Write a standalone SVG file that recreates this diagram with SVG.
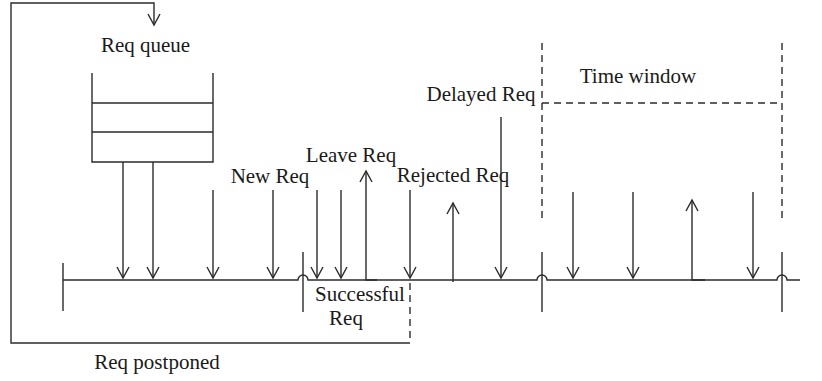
<svg xmlns="http://www.w3.org/2000/svg" width="822" height="381" viewBox="0 0 822 381">
  <style>
    .ln { stroke: #2b2b2b; stroke-width: 1.4; fill: none; }
    .dash { stroke: #2b2b2b; stroke-width: 1.4; fill: none; stroke-dasharray: 7 5; }
    text { font-family: "Liberation Serif", "Times New Roman", serif; font-size: 21px; fill: #1a1a1a; text-anchor: middle; }
  </style>
  <defs>
    <marker id="head" viewBox="0 0 14 14" refX="12" refY="7" markerWidth="14" markerHeight="14" markerUnits="userSpaceOnUse" orient="auto">
      <path d="M1 1 L12 7 L1 13" fill="none" stroke="#2b2b2b" stroke-width="1.4"/>
    </marker>
  </defs>
  <rect width="822" height="381" fill="#ffffff"/>

  <!-- request queue -->
  <g id="queue">
    <path class="ln" d="M92 73 V162 H213 V73 M92 103 H213 M92 132 H213"/>
    <text x="145.5" y="52">Req queue</text>
  </g>

  <!-- time window -->
  <g id="window">
    <path class="dash" d="M542 43 V222 M782 43 V222 M542 103 H782"/>
    <text x="638" y="83">Time window</text>
  </g>

  <!-- labels -->
  <g id="labels">
    <text x="270" y="183">New Req</text>
    <text x="351" y="162">Leave Req</text>
    <text x="453" y="182">Rejected Req</text>
    <text x="481" y="101">Delayed Req</text>
    <text x="360" y="301">Successful</text>
    <text x="346" y="325">Req</text>
    <text x="157" y="369">Req postponed</text>
  </g>

  <!-- timeline with hops over the window boundaries -->
  <g id="timeline">
    <path class="ln" d="M63 280 H298 A5 5 0 0 1 308 280 H537 A5 5 0 0 1 547 280 H777 A5 5 0 0 1 787 280 H800"/>
    <path class="ln" d="M63 263 V311 M303 252 V312 M542 252 V312 M782 252 V312"/>
  </g>

  <g id="connectors">
    <!-- postponed loop back to the queue -->
    <path class="ln" d="M410 343 H11 V3 H154 V25" marker-end="url(#head)"/>
    <path class="dash" d="M410 283 V343"/>
    <!-- incoming requests -->
    <path class="ln" d="M123 162 V278" marker-end="url(#head)"/>
    <path class="ln" d="M153 162 V278" marker-end="url(#head)"/>
    <path class="ln" d="M213 190 V278" marker-end="url(#head)"/>
    <path class="ln" d="M273 190 V278" marker-end="url(#head)"/>
    <path class="ln" d="M317 190 V278" marker-end="url(#head)"/>
    <path class="ln" d="M341 190 V278" marker-end="url(#head)"/>
    <path class="ln" d="M410 190 V278" marker-end="url(#head)"/>
    <path class="ln" d="M501 117 V278" marker-end="url(#head)"/>
    <path class="ln" d="M573 192 V278" marker-end="url(#head)"/>
    <path class="ln" d="M633 192 V278" marker-end="url(#head)"/>
    <path class="ln" d="M753 192 V278" marker-end="url(#head)"/>
    <!-- leaving / rejected requests -->
    <path class="ln" d="M377 280 H366 V171" marker-end="url(#head)"/>
    <path class="ln" d="M453 282 V203" marker-end="url(#head)"/>
    <path class="ln" d="M705 280 H692 V200" marker-end="url(#head)"/>
  </g>
</svg>
